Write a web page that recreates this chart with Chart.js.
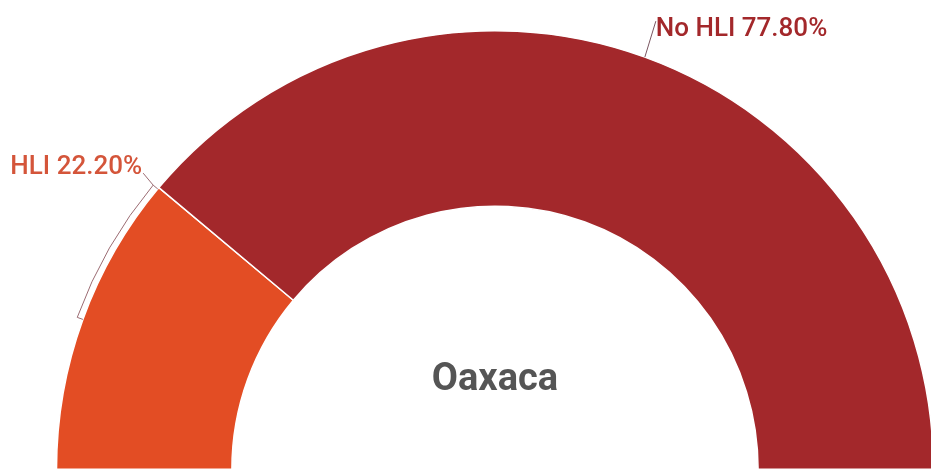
<!DOCTYPE html>
<html>
<head>
<meta charset="utf-8">
<script src="https://cdn.jsdelivr.net/npm/chart.js@4.4.1/dist/chart.umd.min.js"></script>
<style>
  html, body { margin: 0; padding: 0; background: #fff; overflow: hidden; }
  #wrap { position: relative; width: 940px; height: 470px; }
</style>
</head>
<body>
<div id="wrap"><canvas id="donut"></canvas></div>
<script>
// data
var categories = ["HLI", "No HLI"];
var shares = [22.2, 77.8];
var sliceColors = ['#E34D24', '#A3282B'];
var labelColors = ['#D4553A', '#A3282B'];
var centerTitle = "Oaxaca";

function pct(v) {
    return v.toFixed(2) + "%";
}

// labels, bracket and leader line drawn on top of the arcs
var calloutPlugin = {
    id: 'callouts',
    afterDatasetsDraw: function (chart) {
        var ctx = chart.ctx;
        var arcs = chart.getDatasetMeta(0).data;
        ctx.save();

        // HLI: bracket along the outer edge, from the slice middle to its end
        var a = arcs[0];
        var mid = (a.startAngle + a.endAngle) / 2;
        var r = a.outerRadius + 6;
        var end = a.endAngle - 0.004;
        ctx.strokeStyle = '#9B6B72';
        ctx.lineWidth = 1;
        ctx.beginPath();
        ctx.moveTo(a.x + (r - 6) * Math.cos(mid), a.y + (r - 6) * Math.sin(mid));
        ctx.lineTo(a.x + r * Math.cos(mid), a.y + r * Math.sin(mid));
        ctx.arc(a.x, a.y, r, mid, end);
        ctx.lineTo(a.x + (r - 6) * Math.cos(end), a.y + (r - 6) * Math.sin(end));
        ctx.stroke();
        var ex = a.x + r * Math.cos(end);
        var ey = a.y + r * Math.sin(end);
        ctx.beginPath();
        ctx.moveTo(ex, ey);
        ctx.lineTo(ex - 10, ey - 12);
        ctx.stroke();
        ctx.font = '500 26px Roboto';
        ctx.fillStyle = labelColors[0];
        ctx.textAlign = 'right';
        ctx.textBaseline = 'alphabetic';
        ctx.fillText(categories[0] + " " + pct(shares[0]), ex - 11, ey - 11);

        // No HLI: short leader from the slice middle
        var b = arcs[1];
        var m2 = (b.startAngle + b.endAngle) / 2;
        var sx = b.x + b.outerRadius * Math.cos(m2);
        var sy = b.y + b.outerRadius * Math.sin(m2);
        ctx.strokeStyle = '#7A5560';
        ctx.beginPath();
        ctx.moveTo(sx, sy);
        ctx.lineTo(sx + 11, sy - 36);
        ctx.stroke();
        ctx.fillStyle = labelColors[1];
        ctx.textAlign = 'left';
        ctx.fillText(categories[1] + " " + pct(shares[1]), sx + 11, sy - 21);

        // centre title
        ctx.font = 'bold 38px Roboto';
        ctx.fillStyle = '#555555';
        ctx.textAlign = 'center';
        ctx.textBaseline = 'middle';
        ctx.fillText(centerTitle, a.x, a.y - 89);
        ctx.restore();
    }
};

var chart = new Chart(document.getElementById('donut').getContext('2d'), {
    type: 'doughnut',
    data: {
        labels: categories,
        datasets: [{
            data: shares,
            backgroundColor: sliceColors,
            borderColor: '#ffffff',
            borderWidth: 1.5
        }]
    },
    options: {
        responsive: true,
        maintainAspectRatio: false,
        animation: false,
        rotation: -90,
        circumference: 180,
        cutout: '60%',
        layout: { padding: { left: 55, right: 5, top: 30, bottom: 0 } },
        plugins: {
            legend: { display: false },
            tooltip: { enabled: false }
        }
    },
    plugins: [calloutPlugin]
});
</script>
</body>
</html>
